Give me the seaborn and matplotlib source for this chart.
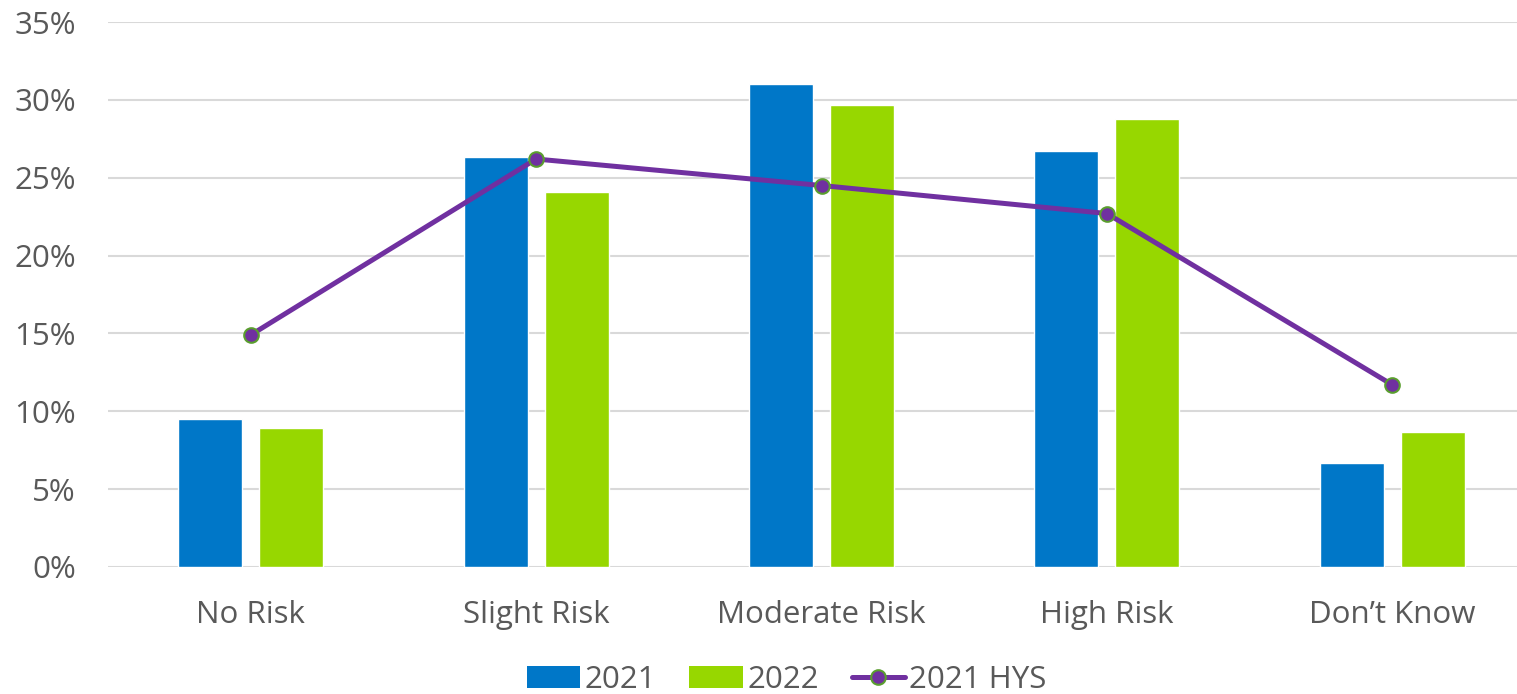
import matplotlib
matplotlib.use("Agg")
import matplotlib.pyplot as plt
import seaborn as sns
import pandas as pd
from matplotlib.patches import Patch
from matplotlib.lines import Line2D

categories = ["No Risk", "Slight Risk", "Moderate Risk", "High Risk", "Don\u2019t Know"]
y2021 = [9.5, 26.3, 31.0, 26.7, 6.7]
y2022 = [8.9, 24.1, 29.7, 28.8, 8.7]
hys2021 = [14.9, 26.2, 24.5, 22.7, 11.7]
yticks = [0, 5, 10, 15, 20, 25, 30, 35]

c_blue = "#0077C8"
c_green = "#97D700"
c_purple = "#7030A0"
c_edge = "#5A9E2E"
c_text = "#595959"

sns.set_theme(style="white")
plt.rcParams["font.family"] = ["Open Sans", "DejaVu Sans"]

df = pd.DataFrame({
    "cat": categories * 2,
    "val": y2021 + y2022,
    "year": ["2021"] * 5 + ["2022"] * 5,
})

fig = plt.figure(figsize=(15.17, 6.94), dpi=100)
ax = fig.add_axes([108 / 1517, 1 - 567 / 694, 1427 / 1517, (567 - 22) / 694])

sns.barplot(data=df, x="cat", y="val", hue="year", order=categories,
            palette=[c_blue, c_green], width=0.567, gap=0.21, ax=ax,
            legend=False, saturation=1)
sns.pointplot(x=categories, y=hys2021, order=categories, color=c_purple, ax=ax,
              markers="o", markersize=10.5, markeredgecolor=c_edge,
              markeredgewidth=1.5, linewidth=3.6)

ax.set_ylim(0, 35)
ax.set_xlim(-0.5, 4.5)
ax.set_yticks(yticks)
ax.set_yticklabels([f"{t}%" for t in yticks])
ax.yaxis.grid(True, color="#D9D9D9", linewidth=1.5)
ax.set_axisbelow(True)
for s in ax.spines.values():
    s.set_visible(False)
ax.set_xlabel("")
ax.set_ylabel("")
ax.tick_params(axis="both", length=0, labelsize=22.5, labelcolor=c_text)
ax.tick_params(axis="y", pad=23)
ax.tick_params(axis="x", pad=24)

handles = [
    Patch(facecolor=c_blue, edgecolor="none"),
    Patch(facecolor=c_green, edgecolor="none"),
    Line2D([0], [0], color=c_purple, linewidth=3.6, marker="o", markersize=10.5,
           markeredgecolor=c_edge, markeredgewidth=1.5),
]
fig.legend(handles, ["2021", "2022", "2021 HYS"], loc="center",
           bbox_to_anchor=(787 / 1517, 1 - 680 / 694), ncol=3, frameon=False,
           fontsize=22.5, labelcolor=c_text, handlelength=1.7, handleheight=0.74,
           handletextpad=0.15, columnspacing=1.05)

fig.savefig("out.png", dpi=100)
